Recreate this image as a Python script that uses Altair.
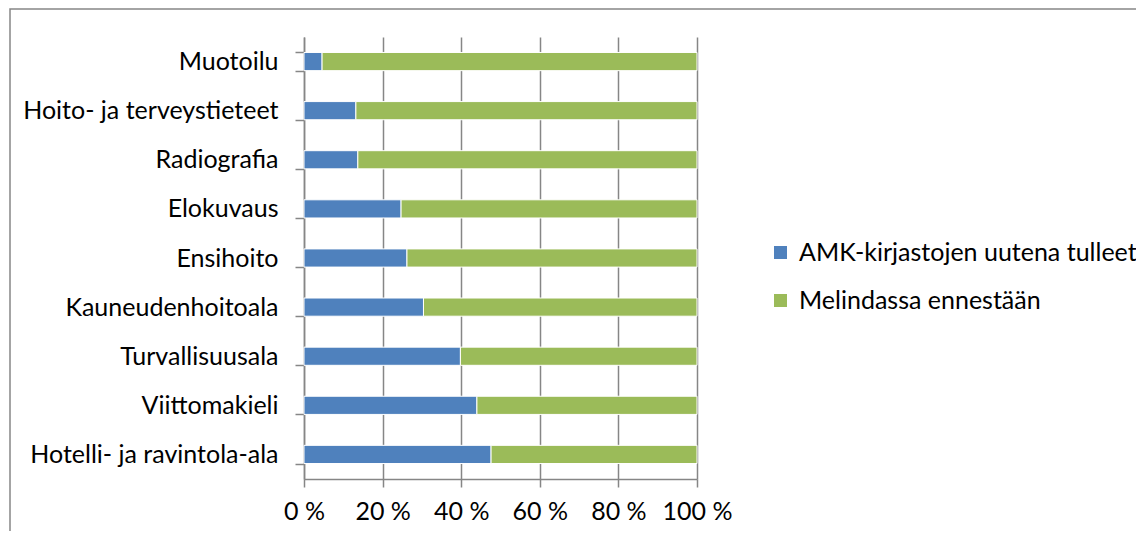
import altair as alt
import pandas as pd

categories = ["Muotoilu", "Hoito- ja terveystieteet", "Radiografia", "Elokuvaus",
              "Ensihoito", "Kauneudenhoitoala", "Turvallisuusala", "Viittomakieli",
              "Hotelli- ja ravintola-ala"]
series_names = ["AMK-kirjastojen uutena tulleet", "Melindassa ennestään"]
new_share = [4.6, 13.2, 13.7, 24.7, 26.2, 30.4, 39.8, 44.0, 47.6]
old_share = [95.4, 86.8, 86.3, 75.3, 73.8, 69.6, 60.2, 56.0, 52.4]
x_ticks = [0, 20, 40, 60, 80, 100]
colors = ["#4F81BD", "#9BBB59"]

rows = []
for c, a, b in zip(categories, new_share, old_share):
    rows.append({"cat": c, "series": series_names[0], "val": a, "ord": 0})
    rows.append({"cat": c, "series": series_names[1], "val": b, "ord": 1})
df = pd.DataFrame(rows)

FONT = "Lato"
GRAY = "#868686"
W, H = 393, 442

bars = alt.Chart(df).mark_bar(stroke="white", strokeWidth=1).encode(
    y=alt.Y("cat:N", sort=categories, title=None,
            scale=alt.Scale(paddingInner=0.63, paddingOuter=0.315),
            axis=alt.Axis(tickBand="extent", tickSize=9, labelPadding=17,
                          domainColor=GRAY, domainWidth=1.5, tickColor=GRAY, tickWidth=1.5,
                          labelFont=FONT, labelFontSize=25, labelColor="black",
                          labelLimit=0, labelOverlap=False, grid=False)),
    x=alt.X("val:Q", stack="zero", title=None,
            scale=alt.Scale(domain=[0, 100], nice=False),
            axis=alt.Axis(values=x_ticks, labelExpr="datum.value + ' %'",
                          tickSize=8, labelPadding=12, grid=True,
                          labelOverlap=False, labelFlush=False, labelBound=False,
                          gridColor=GRAY, gridWidth=1.5, domainColor=GRAY, domainWidth=1.5,
                          tickColor=GRAY, tickWidth=1.5,
                          labelFont=FONT, labelFontSize=25, labelColor="black")),
    color=alt.Color("series:N", sort=series_names, title=None,
                    scale=alt.Scale(domain=series_names, range=colors),
                    legend=alt.Legend(orient="none", legendX=464, legendY=203,
                                      symbolType="square", symbolSize=169,
                                      symbolStrokeWidth=0, labelFont=FONT,
                                      labelFontSize=25, labelColor="black",
                                      labelOffset=6, rowPadding=22, padding=0,
                                      labelLimit=0)),
    order=alt.Order("ord:Q"),
)

border = alt.Chart(pd.DataFrame({"k": [0]})).mark_rect(
    fill=None, stroke=GRAY, strokeWidth=1.5
).encode(
    x=alt.value(-294), x2=alt.value(W + 460),
    y=alt.value(-28), y2=alt.value(H + 80),
)

chart = alt.layer(border, bars).properties(
    width=W, height=H,
    autosize=alt.AutoSizeParams(type="none"),
    padding={"left": 296, "top": 29, "right": 439, "bottom": 52},
).configure_view(stroke=None)

chart.save("out.html", embed_options={"renderer": "svg", "actions": False})
